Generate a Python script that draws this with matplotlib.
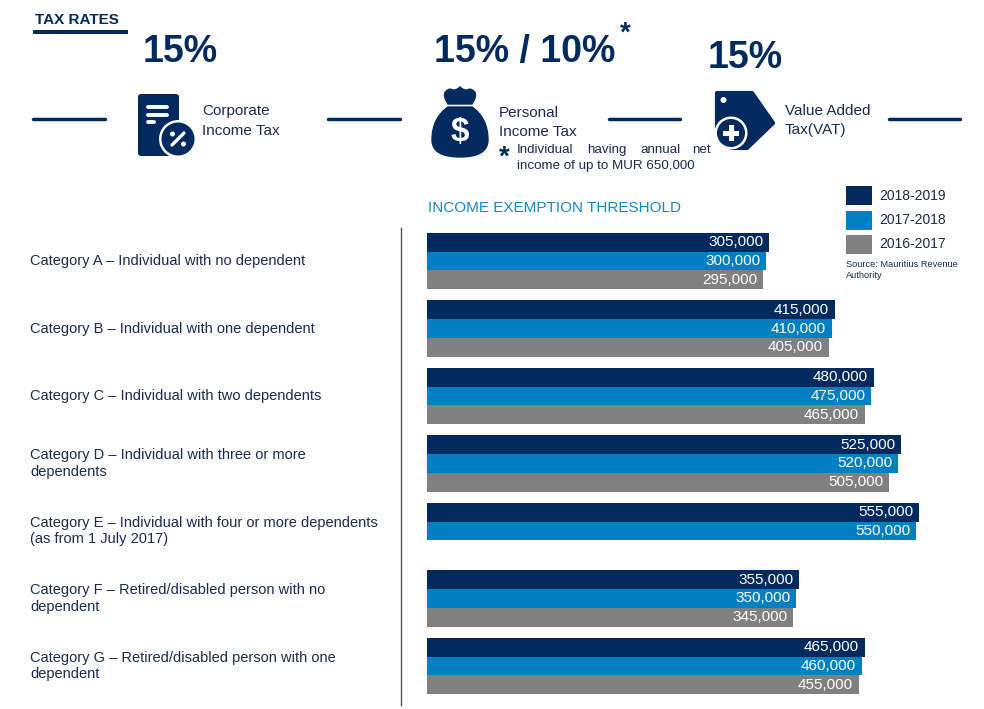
import numpy as np
import matplotlib.pyplot as plt
import matplotlib.transforms as mtransforms
from matplotlib.patches import Rectangle, Circle, Polygon, FancyBboxPatch, PathPatch
from matplotlib.path import Path

plt.rcParams["font.family"] = ["Liberation Sans", "DejaVu Sans"]

NAVY = "#022a5e"
BLUE = "#0080c2"
GRAY = "#808080"
TEXT = "#1b2a4e"
TITLE_BLUE = "#1a86c8"

# ---- data ----
categories = [
    "Category A \u2013 Individual with no dependent",
    "Category B \u2013 Individual with one dependent",
    "Category C \u2013 Individual with two dependents",
    "Category D \u2013 Individual with three or more\ndependents",
    "Category E \u2013 Individual with four or more dependents\n(as from 1 July 2017)",
    "Category F \u2013 Retired/disabled person with no\ndependent",
    "Category G \u2013 Retired/disabled person with one\ndependent",
]
years = ["2018-2019", "2017-2018", "2016-2017"]
values_2018_2019 = [305000, 415000, 480000, 525000, 555000, 355000, 465000]
values_2017_2018 = [300000, 410000, 475000, 520000, 550000, 350000, 460000]
values_2016_2017 = [295000, 405000, 465000, 505000, None, 345000, 455000]

tax_rates = ["15%", "15% / 10%", "15%"]
tax_names = ["Corporate\nIncome Tax", "Personal\nIncome Tax", "Value Added\nTax(VAT)"]
note_words = ["Individual", "having", "annual", "net"]
note_line2 = "income of up to MUR 650,000"

W, H = 984, 709
fig = plt.figure(figsize=(W / 100, H / 100), dpi=100)

# background axes in pixel coordinates for the infographic part
bg = fig.add_axes([0, 0, 1, 1])
bg.set_xlim(0, W)
bg.set_ylim(H, 0)
bg.axis("off")

# ---- header ----
bg.text(35, 24, "TAX RATES", fontsize=11, weight="bold", color=NAVY, va="baseline")
bg.add_patch(Rectangle((33, 30), 95, 3.5, color=NAVY, lw=0))

# big rates
bg.text(143, 62, tax_rates[0], fontsize=27, weight="bold", color=NAVY, va="baseline")
bg.text(434, 62, tax_rates[1], fontsize=27, weight="bold", color=NAVY, va="baseline")
bg.text(620, 41, "*", fontsize=20, weight="bold", color=NAVY, va="baseline")
bg.text(708, 68, tax_rates[2], fontsize=27, weight="bold", color=NAVY, va="baseline")

# connecting lines
for x0, x1 in [(33, 105), (328, 400), (609, 680), (889, 960)]:
    bg.plot([x0, x1], [119, 119], color=NAVY, lw=2.5, solid_capstyle="round")

# tax names
bg.text(202, 115, tax_names[0].split("\n")[0], fontsize=11, color=TEXT, va="baseline")
bg.text(202, 135, tax_names[0].split("\n")[1], fontsize=11, color=TEXT, va="baseline")
bg.text(499, 117, tax_names[1].split("\n")[0], fontsize=11, color=TEXT, va="baseline")
bg.text(499, 136, tax_names[1].split("\n")[1], fontsize=11, color=TEXT, va="baseline")
bg.text(785, 115, tax_names[2].split("\n")[0], fontsize=11, color=TEXT, va="baseline")
bg.text(785, 134, tax_names[2].split("\n")[1], fontsize=11, color=TEXT, va="baseline")

# footnote (justified first line)
bg.text(499, 165, "*", fontsize=20, weight="bold", color=NAVY, va="baseline")
for xw, word, ha in zip([517, 587, 640, 711], note_words, ["left", "left", "left", "right"]):
    bg.text(xw, 153, word, fontsize=9.6, color=TEXT, va="baseline", ha=ha)
bg.text(517, 169, note_line2, fontsize=9.6, color=TEXT, va="baseline")

# icon 1: document with percent
bg.add_patch(FancyBboxPatch((138, 94), 41, 62, boxstyle="round,pad=0,rounding_size=3",
                            fc=NAVY, ec="none"))
for yl, xr in [(107, 167), (114.5, 167), (122, 154)]:
    bg.plot([148, xr], [yl, yl], color="white", lw=2.8, solid_capstyle="round")
bg.add_patch(Circle((178, 139), 19, fc="white", ec="none"))
bg.add_patch(Circle((178, 139), 16.5, fc=NAVY, ec="none"))
bg.plot([172, 184], [145, 133], color="white", lw=2.4, solid_capstyle="round")
bg.add_patch(Circle((172.5, 134), 2.5, fc="white", ec="none"))
bg.add_patch(Circle((183.5, 144), 2.5, fc="white", ec="none"))

# icon 2: money bag
knot_verts = [(448, 104), (440, 92), (450, 89), (455, 92), (460, 87), (465, 92),
              (470, 89), (480, 92), (472, 104), (448, 104)]
knot_codes = [Path.MOVETO, Path.CURVE3, Path.CURVE3, Path.CURVE3, Path.CURVE3,
              Path.CURVE3, Path.CURVE3, Path.CURVE3, Path.CURVE3, Path.CLOSEPOLY]
bg.add_patch(PathPatch(Path(knot_verts, knot_codes), fc=NAVY, ec=NAVY, lw=1))
bag_verts = [(448, 107), (432, 118), (432, 140), (432, 157), (460, 157),
             (488, 157), (488, 140), (488, 118), (472, 107), (448, 107)]
bag_codes = [Path.MOVETO, Path.CURVE3, Path.CURVE3, Path.CURVE3, Path.CURVE3,
             Path.CURVE3, Path.CURVE3, Path.CURVE3, Path.CURVE3, Path.CLOSEPOLY]
bg.add_patch(PathPatch(Path(bag_verts, bag_codes), fc=NAVY, ec=NAVY, lw=1))
bg.text(460, 133, "$", fontsize=24, weight="bold", color="white", ha="center", va="center")

# icon 3: price tag with plus
tag = Polygon([(717, 93), (752, 93), (773, 123), (747, 148), (731, 148), (717, 133)],
              closed=True, fc=NAVY, ec=NAVY, lw=3, joinstyle="round")
bg.add_patch(tag)
bg.add_patch(Circle((723.5, 100), 3, fc="white", ec="none"))
bg.add_patch(Circle((731, 133), 16.5, fc="white", ec="none"))
bg.add_patch(Circle((731, 133), 14, fc=NAVY, ec="none"))
bg.add_patch(Rectangle((723, 130.5), 16, 5, fc="white", ec="none"))
bg.add_patch(Rectangle((728.5, 125), 5, 16, fc="white", ec="none"))

# ---- exemption threshold chart ----
bg.text(428, 208, "INCOME EXEMPTION THRESHOLD", fontsize=11, color=TITLE_BLUE, va="center")
bg.plot([401, 401], [228, 705], color="#555555", lw=1)

colors = [NAVY, BLUE, GRAY]
for i, (name, col) in enumerate(zip(years, colors)):
    top = 186 + i * 24.5
    bg.add_patch(Rectangle((846, top), 26, 19, fc=col, ec="none"))
    bg.text(879, top + 9.5, name, fontsize=10, color=TEXT, va="center")
bg.text(846, 260, "Source: Mauritius Revenue\nAuthority", fontsize=6.7, color=TEXT,
        va="top", linespacing=1.3)

ax = fig.add_axes([427 / W, 1 - 700 / H, (W - 427) / W, (700 - 228) / H])
ax.patch.set_alpha(0)
XMIN, XMAX = -265000, 663000
ax.set_xlim(XMIN, XMAX)
ax.set_ylim(6.504, -0.489)
ax.axis("off")

bar_h = 0.277
y = np.arange(len(categories))
series = [values_2018_2019, values_2017_2018, values_2016_2017]
for k, (vals, col) in enumerate(zip(series, colors)):
    v = np.array([np.nan if x is None else x for x in vals], dtype=float)
    ok = ~np.isnan(v)
    pos = y[ok] + (k - 1) * bar_h
    ax.barh(pos, v[ok] - XMIN, left=XMIN, height=bar_h, color=col, lw=0)
    for p, val in zip(pos, v[ok]):
        ax.annotate(f"{val:,.0f}", (val, p), xytext=(-6, 0), textcoords="offset pixels",
                    ha="right", va="center", color="white", fontsize=11)

lab_tr = mtransforms.blended_transform_factory(bg.transData, ax.transData)
for yi, cat in zip(y, categories):
    ax.text(30, yi, cat, transform=lab_tr, fontsize=10.5, color=TEXT, va="center",
            linespacing=1.2)

fig.savefig("out.png", dpi=100)
